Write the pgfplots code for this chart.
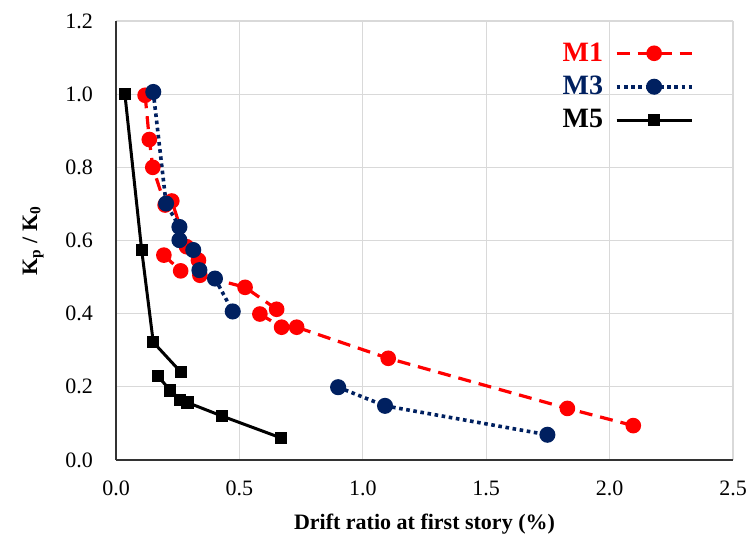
\documentclass[border=0pt]{standalone}
\usepackage{fontspec}
\setmainfont{Liberation Serif}
\usepackage{pgfplots}
\pgfplotsset{compat=1.18}

\definecolor{mred}{RGB}{255,0,0}
\definecolor{mnavy}{RGB}{0,32,96}
\definecolor{gridgray}{RGB}{217,217,217}

\begin{document}
\begin{tikzpicture}
\begin{axis}[
    at={(0,0)}, anchor=south west,
    scale only axis,
    width=308.5bp, height=219.5bp,
    xmin=0, xmax=2.5, ymin=0, ymax=1.2,
    xtick={0,0.5,...,2.5},
    ytick={0,0.2,...,1.2},
    axis x line*=bottom, axis y line*=left,
    axis line style={black!80, line width=0.6bp, -},
    major tick length=0pt,
    grid=major,
    major grid style={gridgray, line width=0.6bp},
    tick label style={font=\fontsize{11bp}{13bp}\selectfont},
    xticklabel style={yshift=-7bp},
    yticklabel style={xshift=-8bp},
    /pgf/number format/assume math mode=true,
    /pgf/number format/.cd, fixed, fixed zerofill, precision=1, /pgfplots/.cd,
    xlabel={\textbf{Drift ratio at first story (\%)}},
    ylabel={\textbf{K\textsubscript{p} / K\textsubscript{0}}},
    label style={font=\fontsize{11bp}{13bp}\selectfont},
    xlabel style={yshift=-2bp},
    ylabel style={yshift=4bp},
    unbounded coords=jump,
    legend cell align=left,
    legend plot pos=right,
    legend style={at={(0.707,0.97)}, anchor=north west, draw=none, fill=none,
        font=\fontsize{14bp}{16bp}\selectfont\bfseries, row sep=2bp},
    legend image code/.code={\path (0cm,0cm); \draw[mark repeat=2,mark phase=2,#1] plot coordinates {(0.14cm,0cm)(0.8cm,0cm)(1.46cm,0cm)};},
]
% M1
\addplot[mred, line width=1.6bp, dash pattern=on 6.5bp off 4bp,
    mark=*, mark size=3.1bp, mark options={solid, fill=mred, draw=mred}] coordinates {
(0.118,0.997)(0.135,0.876)(0.149,0.800)(0.199,0.697)(0.226,0.708)(0.286,0.583)(0.334,0.546)(0.340,0.505)(0.523,0.472)(0.651,0.412)
(nan,nan)
(0.194,0.560)(0.262,0.517)
(nan,nan)
(0.583,0.399)(0.671,0.363)(0.732,0.363)(1.103,0.278)(1.829,0.141)(2.096,0.094)};
\addlegendentry{\textcolor{mred}{M1}}
% M3
\addplot[mnavy, line width=1.8bp, dash pattern=on 1.8bp off 1.8bp,
    mark=*, mark size=3.1bp, mark options={solid, fill=mnavy, draw=mnavy}] coordinates {
(0.151,1.006)(0.203,0.701)(0.257,0.637)(0.257,0.601)(0.313,0.574)(0.338,0.519)(0.401,0.496)(0.473,0.406)
(nan,nan)
(0.900,0.199)(1.090,0.148)(1.748,0.069)};
\addlegendentry{\textcolor{mnavy}{M3}}
% M5
\addplot[black, line width=1.5bp, mark=square*, mark size=2.3bp,
    mark options={solid, fill=black}] coordinates {
(0.036,1.000)(0.104,0.574)(0.151,0.322)(0.263,0.240)
(nan,nan)
(0.169,0.230)(0.220,0.190)(0.260,0.165)(0.290,0.157)(0.430,0.120)(0.670,0.060)};
\addlegendentry{M5}
\end{axis}
\pgfresetboundingbox
\path[use as bounding box] (-58bp,-43.5bp) rectangle (316.5bp,230bp);
\end{tikzpicture}
\end{document}
